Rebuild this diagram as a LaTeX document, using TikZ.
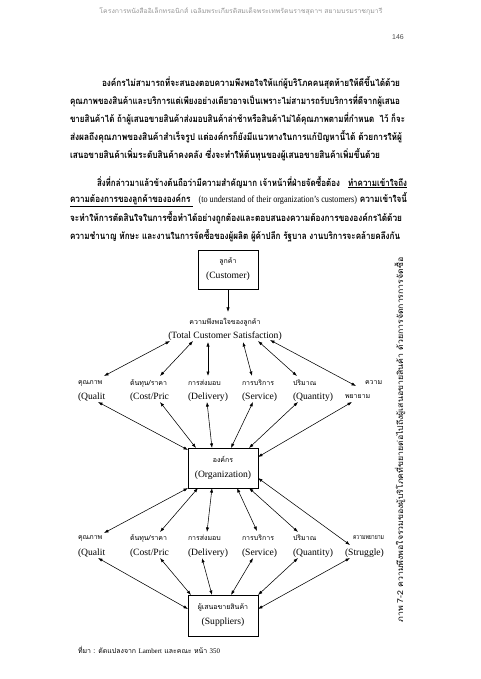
\documentclass[tikz,border=0pt]{standalone}
\usepackage{fontspec}
\setmainfont{Liberation Serif}
\newfontfamily\thai[Script=Thai]{Loma}
\newfontfamily\arialf{Liberation Sans}
\usetikzlibrary{arrows.meta}
\newcommand{\fitw}[2]{\resizebox{#1pt}{\height}{#2}}
\definecolor{hdr}{RGB}{150,150,150}
\begin{document}
\begin{tikzpicture}[x=1pt,y=-1pt,
  every node/.style={inner sep=0pt,outer sep=0pt},
  para/.style={anchor=west,font=\thai\bfseries\fontsize{9.5}{11}\selectfont},
  lab/.style={anchor=west,font=\thai\fontsize{7}{8}\selectfont},
  elab/.style={anchor=west,font=\fontsize{9.6}{11}\selectfont},
  bx/.style={draw,line width=0.6pt,minimum width=70pt,minimum height=40pt,align=center,font=\fontsize{9.6}{11}\selectfont},
  cline/.style={line width=0.55pt},
  dbl/.style={cline,{Latex[length=4.5pt,width=3.2pt]}-{Latex[length=4.5pt,width=3.2pt]}},
  sgl/.style={cline,-{Latex[length=4.5pt,width=3.2pt]}}]
\fill[white] (0,0) rectangle (480,679);
\useasboundingbox (0,0) rectangle (480,679);

% header
\node[font=\thai\fontsize{6.5}{7}\selectfont,text=hdr] (hdr) at (241,11) {\fitw{283}{โครงการหนังสืออิเล็กทรอนิกส์ เฉลิมพระเกียรติสมเด็จพระเทพรัตนราชสุดาฯ สยามบรมราชกุมารี}};
\node[font=\arialf\fontsize{7}{8}\selectfont,text=black!70] (pg) at (398,37) {146};

% paragraph 1
\node[para] (p1a) at (102,83) {\fitw{298}{องค์กรไม่สามารถที่จะสนองตอบความพึงพอใจให้แก่ผู้บริโภคคนสุดท้ายให้ดีขึ้นได้ด้วย}};
\node[para] (p1b) at (70,101) {\fitw{330}{คุณภาพของสินค้าและบริการแต่เพียงอย่างเดียวอาจเป็นเพราะไม่สามารถรับบริการที่ดีจากผู้เสนอ}};
\node[para] (p1c) at (70,119) {\fitw{335}{ขายสินค้าได้ ถ้าผู้เสนอขายสินค้าส่งมอบสินค้าล่าช้าหรือสินค้าไม่ได้คุณภาพตามที่กำหนด\ \ ไว้ ก็จะ}};
\node[para] (p1d) at (70,137) {\fitw{332}{ส่งผลถึงคุณภาพของสินค้าสำเร็จรูป แต่องค์กรก็ยังมีแนวทางในการแก้ปัญหานี้ได้ ด้วยการให้ผู้}};
\node[para] (p1e) at (70,155) {\fitw{310}{เสนอขายสินค้าเพิ่มระดับสินค้าคงคลัง ซึ่งจะทำให้ต้นทุนของผู้เสนอขายสินค้าเพิ่มขึ้นด้วย}};

% paragraph 2
\node[para] (p2a) at (97,182) {\fitw{310}{สิ่งที่กล่าวมาแล้วข้างต้นถือว่ามีความสำคัญมาก เจ้าหน้าที่ฝ่ายจัดซื้อต้อง\ \ \ \underline{ทำความเข้าใจถึง}}};
\node[para] (p2b) at (70,200) {\fitw{337}{\underline{ความต้องการของลูกค้าขององค์กร\ }\ \ {\rmfamily\mdseries (to understand of their organization's customers)} ความเข้าใจนี้}};
\node[para] (p2c) at (70,218) {\fitw{332}{จะทำให้การตัดสินใจในการซื้อทำได้อย่างถูกต้องและตอบสนองความต้องการขององค์กรได้ด้วย}};
\node[para] (p2d) at (70,236) {\fitw{330}{ความชำนาญ ทักษะ และงานในการจัดซื้อของผู้ผลิต ผู้ค้าปลีก รัฐบาล งานบริการจะคล้ายคลึงกัน}};

% boxes
\node[bx,minimum width=60pt,minimum height=39pt] (cust) at (228,269.5) {{\thai\fontsize{7}{8}\selectfont ลูกค้า}\\[4pt](Customer)};
\node[font=\thai\fontsize{7}{8}\selectfont] (sat) at (225,322) {ความพึงพอใจของลูกค้า};
\node[font=\fontsize{9.6}{11}\selectfont] (tcs) at (225,336) {(Total Customer Satisfaction)};
\node[bx] (org) at (223,468) {{\thai\fontsize{7}{8}\selectfont องค์กร}\\[4pt](Organization)};
\node[bx,minimum height=41pt] (sup) at (223,615.5) {{\thai\fontsize{7}{8}\selectfont ผู้เสนอขายสินค้า}\\[4pt](Suppliers)};

% row 1 labels
\node[lab] (t1a) at (78,383) {คุณภาพ};
\node[lab] (t1b) at (130,383) {ต้นทุน/ราคา};
\node[lab] (t1c) at (188,383) {การส่งมอบ};
\node[lab] (t1d) at (242,383) {การบริการ};
\node[lab] (t1e) at (293,383) {ปริมาณ};
\node[lab] (t1f) at (365,383) {ความ};
\node[elab] (e1a) at (78,397) {(Qualit};
\node[elab] (e1b) at (130,397) {(Cost/Pric};
\node[elab] (e1c) at (188,397) {(Delivery)};
\node[elab] (e1d) at (242,397) {(Service)};
\node[elab] (e1e) at (293,397) {(Quantity)};
\node[lab] (e1f) at (345,397) {พยายาม};

% row 2 labels
\node[lab] (t2a) at (78,538) {คุณภาพ};
\node[lab] (t2b) at (130,538) {ต้นทุน/ราคา};
\node[lab] (t2c) at (188,538) {การส่งมอบ};
\node[lab] (t2d) at (242,538) {การบริการ};
\node[lab] (t2e) at (293,538) {ปริมาณ};
\node[lab] (t2f) at (353,538) {\fitw{31}{ความพยายาม}};
\node[elab] (e2a) at (78,553) {(Qualit};
\node[elab] (e2b) at (130,553) {(Cost/Pric};
\node[elab] (e2c) at (188,553) {(Delivery)};
\node[elab] (e2d) at (242,553) {(Service)};
\node[elab] (e2e) at (293,553) {(Quantity)};
\node[elab] (e2f) at (345,553) {(Struggle)};

% source + caption
\node[anchor=west,font=\thai\fontsize{7}{8}\selectfont] (src) at (78,650) {\fitw{142}{ที่มา : ดัดแปลงจาก {\rmfamily Lambert} และคณะ หน้า {\rmfamily 350}}};
\node[rotate=90,font=\thai\fontsize{8}{9}\selectfont] (cap) at (400,440) {\fitw{365}{ภาพ 7-2 ความพึงพอใจรวมของผู้บริโภคที่ขยายต่อไปถึงผู้เสนอขายสินค้า ด้วยการจัดการการจัดซื้อ}};

% connector end points
\coordinate (s1) at (170,341); \coordinate (s2) at (193,341); \coordinate (s3) at (208,342);
\coordinate (s4) at (243,342); \coordinate (s5) at (258,341); \coordinate (s6) at (270,340);
\coordinate (u1) at (104,376); \coordinate (u2) at (160,376); \coordinate (u3) at (208,376);
\coordinate (u4) at (252,376); \coordinate (u5) at (297,376); \coordinate (u6) at (356,386);

\coordinate (l1) at (98,402); \coordinate (l2) at (160,402); \coordinate (l3) at (207,402);
\coordinate (l4) at (253,402); \coordinate (l5) at (298,402); \coordinate (l6) at (352,402);
\coordinate (o1) at (188,450); \coordinate (o2) at (196,448); \coordinate (o3) at (212,448);
\coordinate (o4) at (231,448); \coordinate (o5) at (249,448); \coordinate (o6) at (258,457);

\coordinate (ob1) at (188,488); \coordinate (ob2) at (198,488); \coordinate (ob3) at (212,488);
\coordinate (ob4) at (237,488); \coordinate (ob5) at (249,488); \coordinate (ob6) at (258,478);
\coordinate (m1) at (104,533); \coordinate (m2) at (160,532); \coordinate (m3) at (207,532);
\coordinate (m4) at (257,531); \coordinate (m5) at (298,532); \coordinate (m6) at (350,545);

\coordinate (k1) at (98,558); \coordinate (k2) at (160,558); \coordinate (k3) at (202,558);
\coordinate (k4) at (253,558); \coordinate (k5) at (298,558); \coordinate (k6) at (350,558);
\coordinate (q1) at (188,609); \coordinate (q2) at (191,595); \coordinate (q3) at (212,595);
\coordinate (q4) at (231,595); \coordinate (q5) at (258,595); \coordinate (q6) at (258,609);

% connectors
\draw[sgl] (cust.south) -- ([yshift=6pt]cust.south |- sat.north);
\foreach \i in {1,...,6}{
  \draw[dbl] (s\i) -- (u\i);
  \draw[dbl] (l\i) -- (o\i);
  \draw[dbl] (ob\i) -- (m\i);
  \draw[dbl] (k\i) -- (q\i);
}
\end{tikzpicture}
\end{document}
